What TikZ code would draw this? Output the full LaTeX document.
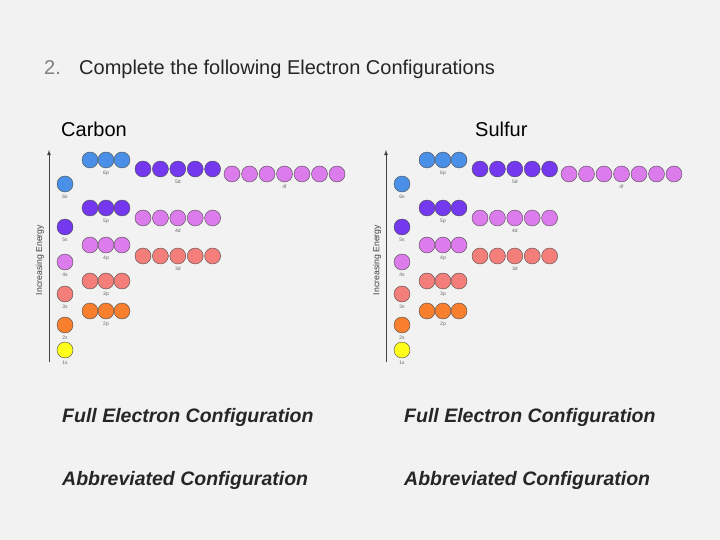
\documentclass[tikz,border=0pt]{standalone}
\usepackage{fontspec}
\setmainfont{Liberation Sans}
\begin{document}
\begin{tikzpicture}[x=1pt,y=-1pt,
    orb/.style={circle, draw=black!70, line width=0.4pt, minimum size=16pt, inner sep=0pt, fill=#1},
    sub/.style={font=\fontsize{5}{5}\selectfont, text=black!60},
    title/.style={font=\fontsize{20}{22}\selectfont, anchor=base west, inner sep=0pt},
    blank/.style={font=\fontsize{19.5}{21}\selectfont\bfseries\itshape, text=black!85, anchor=base west, inner sep=0pt},
  ]
  \definecolor{bg}{HTML}{F2F2F2}
  \definecolor{cS1}{HTML}{FFFF1A}
  \definecolor{cS2}{HTML}{F77F2E}
  \definecolor{cS3}{HTML}{F47E7A}
  \definecolor{cS4}{HTML}{DC7CEC}
  \definecolor{cS5}{HTML}{7438EE}
  \definecolor{cS6}{HTML}{4A90E8}
  \fill[bg] (0,0) rectangle (720,540);

  % Heading
  \node[title, text=black!50] (num) at (44,75) {2.};
  \node[title, text=black!85] (head) at (79,75) {Complete the following Electron Configurations};

  % two energy diagrams
  \foreach \dx/\el in {0/carbon, 337/sulfur}{
    \begin{scope}[xshift=\dx]
      % Axis
      \coordinate (\el-bot) at (49,362);
      \coordinate (\el-top) at (49,150);
      \draw[-latex, line width=0.8pt, black!75] (\el-bot) -- (\el-top);
      \node[rotate=90, font=\fontsize{8.7}{9}\selectfont, text=black!75] (\el-axis) at (40,260) {Increasing Energy};
      % s orbitals
      \foreach \n/\y/\c in {1/350/cS1, 2/325/cS2, 3/294/cS3, 4/262/cS4, 5/227/cS5, 6/184/cS6}{
        \node[orb=\c] (\el-\n s) at (65,\y) {};
        \node[sub, below=-1pt] at (\el-\n s.south) {\n s};
      }
      % p orbitals
      \foreach \n/\y/\c in {2/311/cS2, 3/281/cS3, 4/245/cS4, 5/208/cS5, 6/160/cS6}{
        \foreach \i/\x in {1/90, 2/106, 3/122}{
          \node[orb=\c] (\el-\n p\i) at (\x,\y) {};
        }
        \node[sub, below=-1pt] at (\el-\n p2.south) {\n p};
      }
      % d orbitals
      \foreach \n/\y/\c in {3/256/cS3, 4/218/cS4, 5/169/cS5}{
        \foreach \i in {1,...,5}{
          \node[orb=\c] (\el-\n d\i) at ({143+17.4*(\i-1)},\y) {};
        }
        \node[sub, below=-1pt] at (\el-\n d3.south) {\n d};
      }
      % f orbitals
      \foreach \i in {1,...,7}{
        \node[orb=cS4] (\el-4f\i) at ({232+17.5*(\i-1)},174) {};
      }
      \node[sub, below=-1pt] at (\el-4f4.south) {4f};
    \end{scope}
  }

  % Element names
  \node[title] (carbon) at (61,137) {Carbon};
  \node[title] (sulfur) at (475,137) {Sulfur};

  % Answer lines
  \node[blank] (fullC) at (62,422) {Full Electron Configuration};
  \node[blank] (fullS) at (404,422) {Full Electron Configuration};
  \node[blank] (abbrC) at (62,485) {Abbreviated Configuration};
  \node[blank] (abbrS) at (404,485) {Abbreviated Configuration};
\end{tikzpicture}
\end{document}
